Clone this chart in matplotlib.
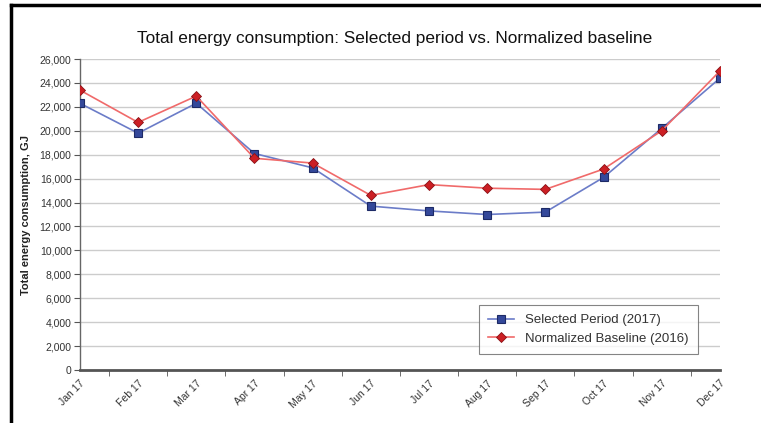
import matplotlib
matplotlib.use("Agg")
import matplotlib.pyplot as plt
from matplotlib.lines import Line2D
import numpy as np

plt.rcParams['font.family'] = ['Liberation Sans', 'DejaVu Sans']

months = ["Jan 17", "Feb 17", "Mar 17", "Apr 17", "May 17", "Jun 17",
          "Jul 17", "Aug 17", "Sep 17", "Oct 17", "Nov 17", "Dec 17"]
selected_2017 = [22300, 19800, 22300, 18100, 16900, 13700,
                 13300, 13000, 13200, 16100, 20200, 24400]
baseline_2016 = [23400, 20700, 22900, 17700, 17300, 14600,
                 15500, 15200, 15100, 16800, 20000, 25000]
yticks = list(range(0, 26001, 2000))

fig = plt.figure(figsize=(7.61, 4.23), dpi=100)
ax = fig.add_axes([0.105, 0.1253, 0.841, 0.7352])

x = np.arange(len(months))
ax.plot(x, selected_2017, color="#6b7cc8", lw=1.2, marker="s", ms=5.5,
        markerfacecolor="#34489a", markeredgecolor="#1d2a66", markeredgewidth=0.8,
        label="Selected Period (2017)", zorder=3)
ax.plot(x, baseline_2016, color="#f06a6a", lw=1.2, marker="D", ms=5.5,
        markerfacecolor="#cc1f24", markeredgecolor="#8a1015", markeredgewidth=0.6,
        label="Normalized Baseline (2016)", zorder=4)

ax.set_xlim(0, len(months) - 1)
ax.set_ylim(0, 26000)
ax.set_yticks(yticks)
ax.set_yticklabels([f"{v:,}" for v in yticks], fontsize=7.5, color="#333333")
ax.set_xticks(x)
ax.set_xticklabels(months, rotation=45, ha="right", rotation_mode="anchor",
                   fontsize=7.5, color="#333333")
ax.tick_params(axis="x", which="major", length=0, pad=6)
ax.set_xticks(np.arange(0.5, len(months) - 1, 1), minor=True)
ax.tick_params(axis="x", which="minor", length=4, direction="out", color="#555555")
ax.tick_params(axis="y", length=4, direction="out", color="#555555", pad=2)

ax.grid(axis="y", color="#cccccc", lw=1.0)
ax.set_axisbelow(True)
for s in ["top", "right"]:
    ax.spines[s].set_visible(False)
ax.spines["left"].set_color("#666666")
ax.spines["left"].set_linewidth(1.0)
ax.spines["bottom"].set_color("#555555")
ax.spines["bottom"].set_linewidth(2.0)

ax.set_ylabel("Total energy consumption, GJ", fontsize=8, fontweight="bold",
              color="#222222", labelpad=6)
fig.text(0.519, 0.91, "Total energy consumption: Selected period vs. Normalized baseline",
         ha="center", va="center", fontsize=12.4, color="#111111")

leg = ax.legend(loc="lower right", bbox_to_anchor=(0.965, 0.052), fontsize=9.5,
                frameon=True, fancybox=False, edgecolor="#666666",
                handlelength=2.0, borderpad=0.7, labelspacing=0.45,
                borderaxespad=0.0)
leg.get_frame().set_linewidth(0.8)
for t in leg.get_texts():
    t.set_color("#333333")

# outer black frame (left and top)
fig.add_artist(Line2D([0.014, 0.014], [0.0, 0.988], transform=fig.transFigure,
                      color="black", lw=2.5))
fig.add_artist(Line2D([0.014, 1.0], [0.988, 0.988], transform=fig.transFigure,
                      color="black", lw=2.5))

fig.savefig("out.png", dpi=100)
